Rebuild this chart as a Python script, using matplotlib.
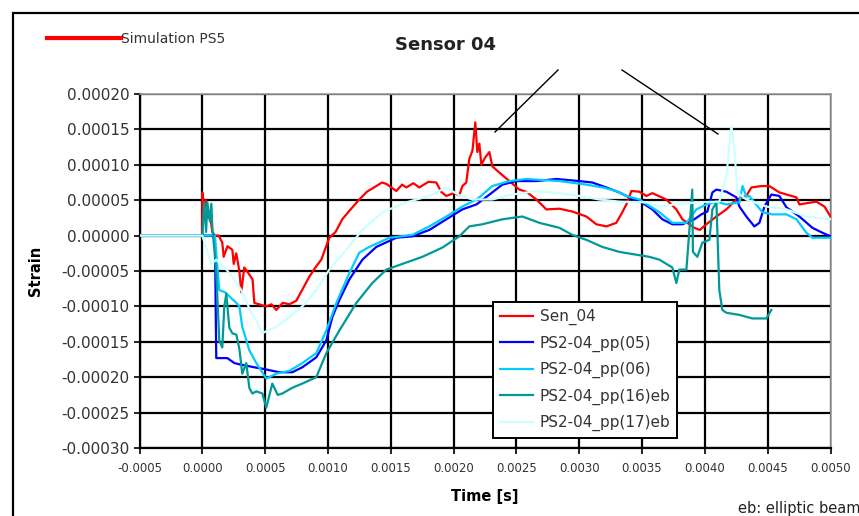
import matplotlib
matplotlib.use("Agg")
import matplotlib.pyplot as plt
from matplotlib.patches import Rectangle
from matplotlib.lines import Line2D
import numpy as np

# ---- data: time in ms, strain in microstrain ----
sen04_t = [0.0, 0.0, 0.016, 0.03, 0.045, 0.06, 0.08, 0.10, 0.13, 0.159, 0.17, 0.20, 0.239, 0.25, 0.27,
           0.295, 0.31, 0.334, 0.374, 0.40, 0.414, 0.47, 0.509, 0.55, 0.589, 0.64, 0.693, 0.748, 0.80,
           0.852, 0.90, 0.947, 1.011, 1.06, 1.114, 1.17, 1.25, 1.31, 1.385, 1.43, 1.465, 1.544, 1.59,
           1.624, 1.68, 1.727, 1.80, 1.863, 1.90, 1.942, 2.00, 2.046, 2.07, 2.101, 2.125, 2.15, 2.173,
           2.189, 2.205, 2.221, 2.25, 2.285, 2.308, 2.364, 2.444, 2.523, 2.579, 2.659, 2.738, 2.842,
           2.945, 3.057, 3.136, 3.216, 3.295, 3.343, 3.375, 3.415, 3.479, 3.534, 3.582, 3.693, 3.773,
           3.821, 3.916, 3.96, 4.012, 4.092, 4.171, 4.251, 4.330, 4.370, 4.45, 4.513, 4.593, 4.729,
           4.752, 4.888, 4.952, 5.0]
sen04_s = [0, 61, 40, 50, 25, 30, 5, 0, 0, -10, -30, -15, -20, -40, -25,
           -50, -80, -45, -55, -62, -95, -98, -100, -97, -105, -95, -97, -92, -75,
           -58, -45, -34, -3, 5, 23, 35, 51, 62, 70, 75, 73, 63, 72,
           68, 74, 68, 76, 75, 62, 56, 60, 57, 70, 75, 108, 120, 160,
           118, 130, 100, 110, 118, 98, 89, 77, 65, 62, 51, 37, 38,
           34, 27, 16, 13, 18, 33, 44, 63, 62, 56, 60, 51, 37,
           23, 11, 8, 16, 27, 37, 51, 56, 68, 70, 70, 61, 54,
           44, 48, 41, 27]

pp05_t = [-0.5, 0.10, 0.111, 0.199, 0.255, 0.30, 0.414, 0.478, 0.613, 0.716, 0.796, 0.907, 0.987, 1.035,
          1.091, 1.170, 1.274, 1.385, 1.544, 1.672, 1.807, 1.942, 2.070, 2.181, 2.205, 2.308, 2.388,
          2.499, 2.659, 2.818, 3.001, 3.104, 3.216, 3.319, 3.399, 3.494, 3.582, 3.662, 3.741, 3.821,
          3.916, 3.972, 4.020, 4.060, 4.092, 4.171, 4.251, 4.275, 4.330, 4.394, 4.434, 4.474, 4.529,
          4.593, 4.649, 4.752, 4.856, 4.936, 5.0]
pp05_s = [0, 0, -173, -173, -180, -182, -186, -188, -193, -193, -186, -172, -148, -115,
          -91, -62, -34, -16, -3, -1, 8, 23, 37, 44, 47, 61, 72,
          77, 77, 80, 77, 75, 68, 61, 54, 47, 37, 23, 16, 16,
          23, 30, 34, 61, 65, 62, 54, 41, 27, 13, 18, 41, 58,
          56, 40, 27, 11, 4, -1]

pp06_t = [-0.5, 0.10, 0.135, 0.18, 0.271, 0.295, 0.318, 0.374, 0.430, 0.509, 0.589, 0.693, 0.796, 0.907,
          0.987, 1.067, 1.170, 1.250, 1.329, 1.489, 1.672, 1.807, 1.942, 2.070, 2.181, 2.205, 2.308,
          2.444, 2.579, 2.842, 3.057, 3.184, 3.295, 3.375, 3.479, 3.638, 3.741, 3.853, 3.932, 4.012,
          4.092, 4.171, 4.275, 4.30, 4.33, 4.354, 4.458, 4.537, 4.649, 4.729, 4.808, 4.856, 5.0]
pp06_s = [0, 0, -77, -80, -95, -100, -129, -162, -180, -202, -195, -191, -180, -166,
          -134, -95, -53, -24, -16, -3, 1, 13, 27, 41, 51, 54, 70,
          77, 80, 77, 72, 68, 63, 56, 51, 33, 18, 18, 37, 44,
          48, 44, 47, 70, 55, 56, 33, 30, 30, 23, 4, -3, -3]

pp16eb_t = [-0.5, 0.0, 0.016, 0.03, 0.04, 0.06, 0.072, 0.08, 0.096, 0.111, 0.135, 0.159, 0.175, 0.191,
            0.215, 0.239, 0.271, 0.295, 0.318, 0.350, 0.374, 0.398, 0.430, 0.478, 0.509, 0.557, 0.60,
            0.637, 0.716, 0.796, 0.907, 0.987, 1.091, 1.226, 1.353, 1.465, 1.624, 1.751, 1.910, 2.046,
            2.125, 2.229, 2.388, 2.547, 2.683, 2.842, 2.945, 3.057, 3.184, 3.319, 3.455, 3.558, 3.638,
            3.741, 3.773, 3.797, 3.853, 3.877, 3.90, 3.905, 3.940, 3.980, 4.036, 4.060, 4.092, 4.115,
            4.139, 4.171, 4.275, 4.378, 4.490, 4.529]
pp16eb_s = [0, 0, 47, 5, 47, 20, 45, 10, -20, -53, -148, -158, -100, -82,
            -130, -138, -140, -160, -195, -180, -215, -223, -220, -223, -243, -209, -225,
            -223, -215, -209, -200, -166, -134, -95, -67, -48, -38, -30, -17, -1,
            13, 16, 23, 27, 18, 11, 1, -6, -16, -23, -27, -30, -34,
            -45, -67, -48, -48, 8, 65, -23, -30, -10, -6, 37, 47, -77,
            -105, -109, -112, -117, -117, -105]

pp17eb_t = [-0.5, 0.0, 0.072, 0.111, 0.191, 0.255, 0.310, 0.390, 0.430, 0.478, 0.509, 0.589, 0.693,
            0.796, 0.907, 1.011, 1.146, 1.274, 1.433, 1.624, 1.807, 1.942, 2.046, 2.149, 2.308, 2.468,
            2.659, 2.842, 3.001, 3.160, 3.319, 3.534, 3.638, 3.797, 3.956, 4.115, 4.171, 4.211, 4.235,
            4.259, 4.330, 4.490, 4.649, 4.808, 5.0]
pp17eb_s = [0, 0, -40, -34, -48, -62, -77, -109, -120, -138, -135, -129, -115,
            -100, -77, -48, -20, 8, 33, 47, 56, 68, 57, 51, 51, 58,
            63, 60, 56, 51, 48, 47, 41, 45, 47, 48, 84, 155, 122,
            61, 51, 41, 37, 27, 23]

series_labels = ["Sen_04", "PS2-04_pp(05)", "PS2-04_pp(06)", "PS2-04_pp(16)eb", "PS2-04_pp(17)eb"]
series_colors = ["#FF0000", "#0000FF", "#00CCFF", "#009999", "#CCFFFF"]

x_ticks = [-0.0005, 0.0, 0.0005, 0.0010, 0.0015, 0.0020, 0.0025, 0.0030, 0.0035, 0.0040, 0.0045, 0.0050]
y_ticks = [-0.00030, -0.00025, -0.00020, -0.00015, -0.00010, -0.00005, 0.0, 0.00005, 0.00010, 0.00015, 0.00020]

W, H = 859, 516
fig = plt.figure(figsize=(W / 100, H / 100), dpi=100)
plt.rcParams['font.family'] = ['DejaVu Sans']

ax = fig.add_axes([139.5 / W, 1 - 448 / H, (830.5 - 139.5) / W, (448 - 94) / H])

series = [(sen04_t, sen04_s), (pp05_t, pp05_s), (pp06_t, pp06_s), (pp16eb_t, pp16eb_s), (pp17eb_t, pp17eb_s)]
for (t, s), lab, col in zip(series, series_labels, series_colors):
    ax.plot(np.array(t) * 1e-3, np.array(s) * 1e-6, color=col, lw=1.6, label=lab, zorder=3)

ax.set_xlim(-0.0005, 0.0050)
ax.set_ylim(-0.00030, 0.00020)
ax.set_xticks(x_ticks)
ax.set_yticks(y_ticks)
ax.set_xticklabels([f"{v:.4f}" for v in x_ticks], fontsize=8.5, color="#333333")
ax.set_yticklabels([f"{v:.5f}" for v in y_ticks], fontsize=11, color="#333333")
ax.grid(True, color="black", lw=1.6, zorder=1)
ax.set_axisbelow(True)
ax.tick_params(axis='both', direction='out', length=4, width=1.2, color='black', pad=3)
ax.tick_params(axis='x', pad=6)
for side in ['left', 'bottom']:
    ax.spines[side].set_color('black')
    ax.spines[side].set_linewidth(1.6)
for side in ['top', 'right']:
    ax.spines[side].set_color('#999999')
    ax.spines[side].set_linewidth(1.2)

ax.set_xlabel("Time [s]", fontsize=10.5, fontweight='bold', labelpad=10)
ax.set_ylabel("Strain", fontsize=10.5, fontweight='bold', labelpad=13)

leg = ax.legend(loc='upper left', bbox_to_anchor=(493 / W, 1 - 302 / H), bbox_transform=fig.transFigure,
                fontsize=11, frameon=True, fancybox=False, edgecolor='black', framealpha=1,
                handlelength=2.2, handletextpad=0.4, labelspacing=0.68, borderpad=0.45,
                borderaxespad=0)
leg.get_frame().set_linewidth(1.4)
for txt in leg.get_texts():
    txt.set_color("#333333")

# outer frame (cropped at right and bottom)
fig.patches.append(Rectangle((13 / W, -0.1), 1.5, 1 - 13 / H + 0.1, transform=fig.transFigure,
                             fill=False, edgecolor='black', lw=1.6))

# header
fig.text(446 / W, 1 - 45 / H, "Sensor 04", fontsize=13, fontweight='bold', ha='center', va='center',
         color="#222222")
fig.lines.append(Line2D([47 / W, 121 / W], [1 - 38 / H, 1 - 38 / H], transform=fig.transFigure,
                        color='#FF0000', lw=3))
fig.text(121 / W, 1 - 39 / H, "Simulation PS5", fontsize=10, ha='left', va='center', color="#333333")
fig.text(738 / W, 1 - 508 / H, "eb: elliptic beam", fontsize=10.5, ha='left', va='center', color="#222222")

# pointer lines
fig.lines.append(Line2D([558 / W, 495 / W], [1 - 70 / H, 1 - 132 / H], transform=fig.transFigure,
                        color='black', lw=1))
fig.lines.append(Line2D([622 / W, 718 / W], [1 - 70 / H, 1 - 134 / H], transform=fig.transFigure,
                        color='black', lw=1))

fig.savefig("out.png", dpi=100)
